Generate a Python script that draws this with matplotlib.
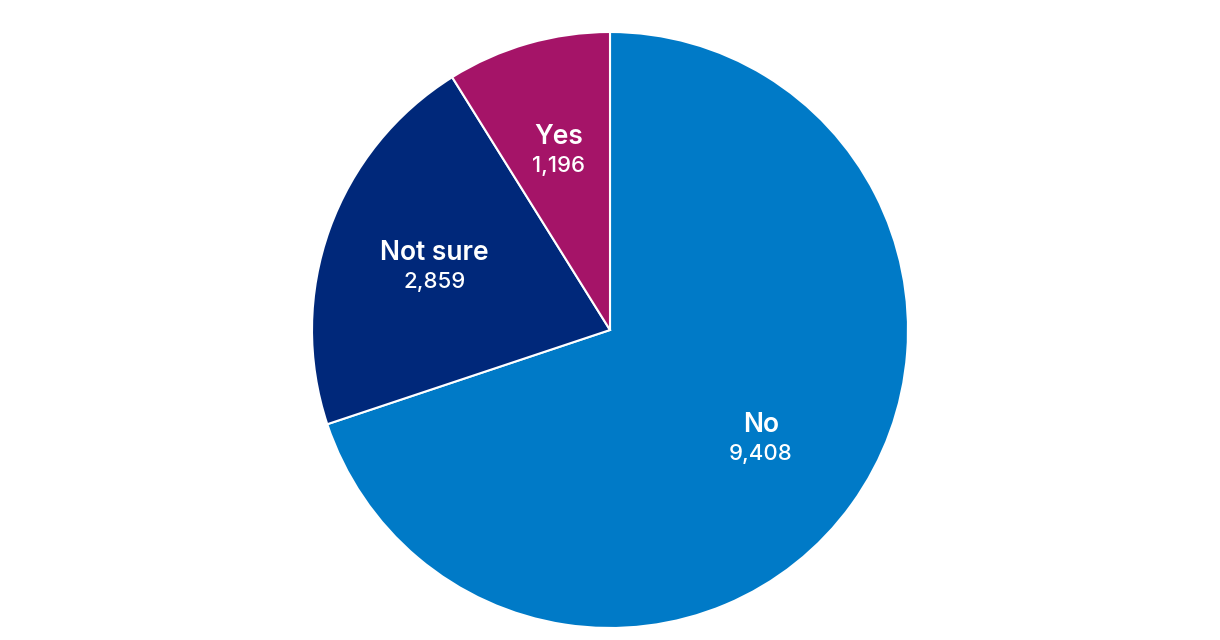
import matplotlib
matplotlib.use("Agg")
import matplotlib.pyplot as plt
import numpy as np

labels = ["No", "Not sure", "Yes"]
counts = [9408, 2859, 1196]
colors = ["#007AC7", "#00287A", "#A51468"]

plt.rcParams["font.family"] = ["Inter", "DejaVu Sans"]

fig = plt.figure(figsize=(12.2, 6.4), dpi=100)
ax = fig.add_axes([0, 0, 1, 1])

cx, cy, r = 610, 310, 298
wedges, _ = ax.pie(counts, colors=colors, startangle=90, counterclock=False,
                   center=(cx, cy), radius=r, frame=True,
                   wedgeprops=dict(edgecolor="white", linewidth=1.5))
ax.set_xlim(0, 1220)
ax.set_ylim(0, 640)
ax.set_aspect("equal")
ax.axis("off")

# labels inside each slice
for w, lab, n in zip(wedges, labels, counts):
    mid = np.deg2rad((w.theta1 + w.theta2) / 2)
    x = cx + 0.625 * r * np.cos(mid)
    y = cy + 0.625 * r * np.sin(mid)
    ax.text(x, y + 14, lab, color="white", fontsize=19, fontweight="semibold",
            ha="center", va="center")
    ax.text(x, y - 15, f"{n:,}", color="white", fontsize=16, fontweight="medium",
            ha="center", va="center")

fig.savefig("out.png", dpi=100)
